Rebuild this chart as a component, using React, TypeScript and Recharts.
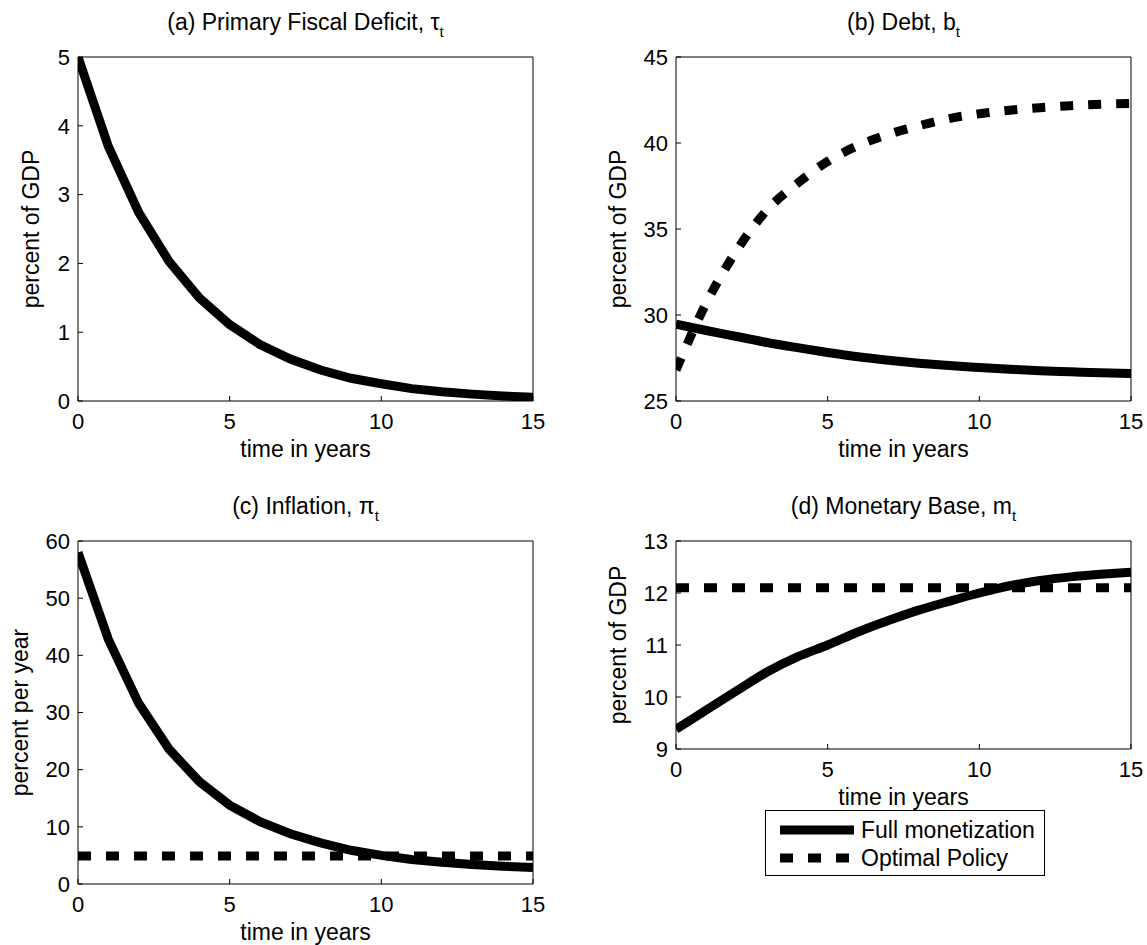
import React from "react";
import { LineChart, Line, XAxis, YAxis, Legend, Label } from "recharts";

const YEARS = [0, 1, 2, 3, 4, 5, 6, 7, 8, 9, 10, 11, 12, 13, 14, 15];
const X_TICKS = [0, 5, 10, 15];

// (a) primary fiscal deficit, percent of GDP
const deficitFull = [5.0, 3.7, 2.74, 2.03, 1.5, 1.11, 0.82, 0.61, 0.45, 0.33, 0.25, 0.18, 0.135, 0.1, 0.074, 0.055];
// (b) debt, percent of GDP
const debtFull = [29.47, 29.1, 28.75, 28.4, 28.1, 27.82, 27.57, 27.37, 27.2, 27.06, 26.95, 26.85, 26.76, 26.7, 26.64, 26.6];
const debtOptimal = [26.8, 30.7, 33.75, 36.1, 37.65, 38.93, 39.85, 40.5, 41.0, 41.42, 41.7, 41.9, 42.05, 42.17, 42.25, 42.3];
// (c) inflation, percent per year
const inflationFull = [58, 42.8, 31.6, 23.6, 17.9, 13.8, 10.9, 8.8, 7.2, 5.9, 5.0, 4.3, 3.8, 3.4, 3.1, 2.9];
const inflationOptimal = [4.9, 4.9, 4.9, 4.9, 4.9, 4.9, 4.9, 4.9, 4.9, 4.9, 4.9, 4.9, 4.9, 4.9, 4.9, 4.9];
// (d) monetary base, percent of GDP
const baseFull = [9.38, 9.75, 10.12, 10.48, 10.77, 11.0, 11.25, 11.47, 11.67, 11.84, 12.0, 12.14, 12.24, 12.31, 12.36, 12.4];
const baseOptimal = [12.1, 12.1, 12.1, 12.1, 12.1, 12.1, 12.1, 12.1, 12.1, 12.1, 12.1, 12.1, 12.1, 12.1, 12.1, 12.1];

const SERIES_NAMES = { full: "Full monetization", optimal: "Optimal Policy" };

const build = (full: number[], optimal?: number[]) =>
  YEARS.map((t, i) => ({ t, full: full[i], optimal: optimal ? optimal[i] : undefined }));

const FONT = '"Liberation Sans", Arial, Helvetica, sans-serif';
const LW = 9;
const DASH = "13 15";
const TICK = { fill: "#000", fontSize: 22 };

const titleContent = (main: string, sub: string) => (props: any) => {
  const vb = props.viewBox || { x: 0, y: 0, width: 0, height: 0 };
  const x = vb.x + vb.width / 2;
  const y = vb.y + (vb.height || 0) - 27;
  return (
    <text x={x} y={y} textAnchor="middle" fontSize={23} fill="#000">
      {main}
      <tspan fontSize={15} dy={7}>
        {sub}
      </tspan>
    </text>
  );
};

const xLabelContent = (props: any) => {
  const vb = props.viewBox || { x: 0, y: 0, width: 0, height: 0 };
  return (
    <text x={vb.x + vb.width / 2} y={vb.y + 56} textAnchor="middle" fontSize={23} fill="#000">
      time in years
    </text>
  );
};

const yLabelContent = (text: string, gap: number) => (props: any) => {
  const vb = props.viewBox || { x: 0, y: 0, width: 0, height: 0 };
  const x = vb.x + vb.width - gap;
  const y = vb.y + vb.height / 2;
  return (
    <text x={x} y={y} transform={`rotate(-90 ${x} ${y})`} textAnchor="middle" fontSize={23} fill="#000">
      {text}
    </text>
  );
};

const legendContent = (props: any) => {
  const items = props.payload || [];
  return (
    <div
      style={{
        width: 280,
        height: 66,
        boxSizing: "border-box",
        border: "1px solid #000",
        background: "#fff",
        paddingTop: 5,
        fontFamily: FONT,
      }}
    >
      {items.map((entry: any) => {
        const dashed = entry.payload && entry.payload.strokeDasharray;
        return (
          <div key={entry.value} style={{ display: "flex", alignItems: "center", height: 28 }}>
            <svg width={95} height={28}>
              <line x1={14} x2={88} y1={14} y2={14} stroke="#000" strokeWidth={LW} strokeDasharray={dashed || undefined} />
            </svg>
            <span style={{ fontSize: 23, color: "#000", lineHeight: "28px" }}>{entry.value}</span>
          </div>
        );
      })}
    </div>
  );
};

type PanelProps = {
  left: number;
  top: number;
  width: number;
  height: number;
  axisW: number;
  marginTop: number;
  marginRight: number;
  bottomH: number;
  data: any[];
  dashed: boolean;
  smooth: boolean;
  yDomain: [number, number];
  yTicks: number[];
  title: string;
  sub: string;
  ylabel: string;
  ylabelGap: number;
  legend?: boolean;
};

function Panel(p: PanelProps) {
  const curve = p.smooth ? "monotone" : "linear";
  return (
    <div style={{ position: "absolute", left: p.left, top: p.top }}>
      <LineChart
        width={p.width}
        height={p.height}
        data={p.data}
        margin={{ top: p.marginTop - 1, right: p.marginRight - 1, bottom: 0, left: 0 }}
      >
        <XAxis
          xAxisId="b"
          type="number"
          dataKey="t"
          domain={[0, 15]}
          ticks={X_TICKS}
          interval={0}
          allowDataOverflow
          stroke="#000"
          tick={TICK}
          tickSize={-5}
          tickMargin={17}
          height={p.bottomH}
        >
          <Label content={xLabelContent} />
        </XAxis>
        {/* top and right axes only close the box and carry the inward ticks */}
        <XAxis
          xAxisId="t"
          orientation="top"
          type="number"
          dataKey="t"
          domain={[0, 15]}
          ticks={X_TICKS}
          interval={0}
          allowDataOverflow
          stroke="#000"
          tick={false}
          tickSize={-5}
          height={1}
        >
          <Label content={titleContent(p.title, p.sub)} />
        </XAxis>
        <YAxis
          yAxisId="l"
          type="number"
          domain={p.yDomain}
          ticks={p.yTicks}
          interval={0}
          allowDataOverflow
          stroke="#000"
          tick={TICK}
          tickSize={-5}
          tickMargin={13}
          width={p.axisW}
        >
          <Label content={yLabelContent(p.ylabel, p.ylabelGap)} />
        </YAxis>
        <YAxis
          yAxisId="r"
          orientation="right"
          type="number"
          domain={p.yDomain}
          ticks={p.yTicks}
          interval={0}
          allowDataOverflow
          stroke="#000"
          tick={false}
          tickSize={-5}
          width={1}
        />
        <Line
          xAxisId="b"
          yAxisId="l"
          type={curve}
          dataKey="full"
          name={SERIES_NAMES.full}
          stroke="#000"
          strokeWidth={LW}
          dot={false}
          activeDot={false}
          isAnimationActive={false}
        />
        {p.dashed && (
          <Line
            xAxisId="b"
            yAxisId="l"
            type={curve}
            dataKey="optimal"
            name={SERIES_NAMES.optimal}
            stroke="#000"
            strokeWidth={LW}
            strokeDasharray={DASH}
            dot={false}
            activeDot={false}
            isAnimationActive={false}
          />
        )}
        {p.legend && (
          <Legend
            layout="horizontal"
            verticalAlign="middle"
            align="center"
            content={legendContent}
            wrapperStyle={{ left: 192, top: 338, width: 280 }}
          />
        )}
      </LineChart>
    </div>
  );
}

export default function App() {
  return (
    <div
      style={{
        position: "absolute",
        left: 0,
        top: 0,
        width: 1147,
        height: 945,
        background: "#fff",
        fontFamily: FONT,
        overflow: "hidden",
      }}
    >
      <Panel
        left={0}
        top={0}
        width={573}
        height={472}
        axisW={78}
        marginTop={57}
        marginRight={40}
        bottomH={71}
        data={build(deficitFull)}
        dashed={false}
        smooth={false}
        yDomain={[0, 5]}
        yTicks={[0, 1, 2, 3, 4, 5]}
        title="(a) Primary Fiscal Deficit, τ"
        sub="t"
        ylabel="percent of GDP"
        ylabelGap={39}
      />
      <Panel
        left={573}
        top={0}
        width={573}
        height={472}
        axisW={103}
        marginTop={57}
        marginRight={15}
        bottomH={71}
        data={build(debtFull, debtOptimal)}
        dashed
        smooth
        yDomain={[25, 45]}
        yTicks={[25, 30, 35, 40, 45]}
        title="(b) Debt, b"
        sub="t"
        ylabel="percent of GDP"
        ylabelGap={50}
      />
      <Panel
        left={0}
        top={472}
        width={573}
        height={473}
        axisW={78}
        marginTop={69}
        marginRight={40}
        bottomH={61}
        data={build(inflationFull, inflationOptimal)}
        dashed
        smooth={false}
        yDomain={[0, 60]}
        yTicks={[0, 10, 20, 30, 40, 50, 60]}
        title="(c) Inflation, π"
        sub="t"
        ylabel="percent per year"
        ylabelGap={50}
      />
      <Panel
        left={573}
        top={472}
        width={573}
        height={473}
        axisW={103}
        marginTop={69}
        marginRight={15}
        bottomH={196}
        data={build(baseFull, baseOptimal)}
        dashed
        smooth
        yDomain={[9, 13]}
        yTicks={[9, 10, 11, 12, 13]}
        title="(d) Monetary Base, m"
        sub="t"
        ylabel="percent of GDP"
        ylabelGap={50}
        legend
      />
    </div>
  );
}
